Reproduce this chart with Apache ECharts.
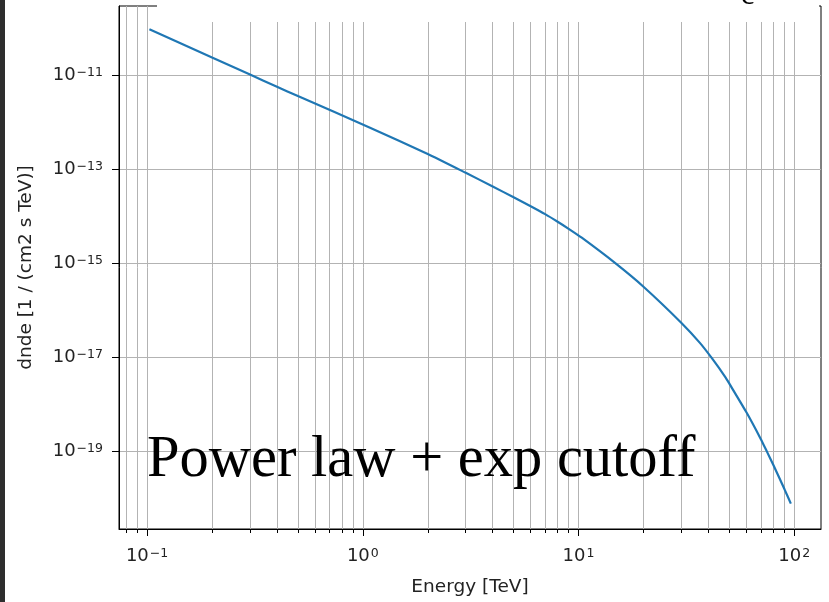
<!DOCTYPE html>
<html>
<head>
<meta charset="utf-8">
<script src="https://cdn.jsdelivr.net/npm/echarts@6/dist/echarts.min.js"></script>
<style>
  html, body { margin: 0; padding: 0; background: #fff; }
  #chart { width: 829px; height: 602px; }
</style>
</head>
<body>
<div id="chart"></div>
<script>
// values (log-log)
const energy = [0.1025, 0.2, 0.3, 0.4, 0.5, 1.08, 2, 3, 4, 5, 6, 7, 8, 9, 10.35,
  14.8, 20, 30, 36.6, 41.5, 47.9, 50, 60, 70, 74.6, 80, 90, 96.4];
const dnde = [9.33e-11, 2.34e-11, 1.02e-11, 5.62e-12, 3.55e-12, 7.59e-13, 2.09e-13,
  8.32e-14, 4.27e-14, 2.51e-14, 1.62e-14, 1.10e-14, 7.59e-15, 5.37e-15, 3.47e-15,
  1.00e-15, 3.16e-16, 5.37e-17, 2.00e-17, 9.55e-18, 3.80e-18, 2.75e-18, 6.76e-19,
  1.82e-19, 1.00e-19, 5.13e-20, 1.58e-20, 7.76e-21];

const xTicks = [0.1, 1, 10, 100];
const yTicks = [1e-19, 1e-17, 1e-15, 1e-13, 1e-11];
const xRange = [0.0741, 133];
const yRange = [2.24e-21, 2.92e-10];

const titleText = 'Power law + exp cutoff';
const xName = 'Energy [TeV]';
const yName = 'dnde [1 / (cm2 s TeV)]';

const font = 'DejaVu Sans';
const gridColor = '#b3b3b3';
const textColor = '#222';

function powLabel(v) {
  const e = Math.round(Math.log10(v));
  const s = e < 0 ? '\u2212' + (-e) : String(e);
  return '{b|10}{s|' + s + '}';
}
const labelRich = {
  b: { fontFamily: font, fontSize: 18, color: textColor, verticalAlign: 'bottom' },
  s: { fontFamily: font, fontSize: 12.5, color: textColor, verticalAlign: 'top', padding: [0, 0, 0, 1] }
};

const chart = echarts.init(document.getElementById('chart'), null, { renderer: 'canvas' });

chart.setOption({
  backgroundColor: '#fff',
  animation: false,
  grid: {
    left: 119, right: 8, top: 6, bottom: 71,
    show: true, borderColor: '#000', borderWidth: 1, backgroundColor: 'transparent'
  },
  xAxis: {
    type: 'log',
    logBase: 10,
    min: xRange[0],
    max: xRange[1],
    name: xName,
    nameLocation: 'middle',
    nameGap: 49,
    nameTextStyle: { fontFamily: font, fontSize: 18.5, color: textColor },
    axisLine: { lineStyle: { color: '#000', width: 1 } },
    axisTick: { customValues: xTicks, length: 7, lineStyle: { color: '#000' } },
    axisLabel: { customValues: xTicks, margin: 18, formatter: powLabel, rich: labelRich },
    splitLine: { show: true, lineStyle: { color: gridColor, width: 1 } },
    minorTick: { show: true, splitNumber: 9, length: 4, lineStyle: { color: '#000' } },
    minorSplitLine: { show: true, lineStyle: { color: gridColor, width: 1 } }
  },
  yAxis: {
    type: 'log',
    logBase: 10,
    min: yRange[0],
    max: yRange[1],
    name: yName,
    nameLocation: 'middle',
    nameGap: 83,
    nameTextStyle: { fontFamily: font, fontSize: 18.5, color: textColor },
    axisLine: { show: true, lineStyle: { color: '#000', width: 1 } },
    axisTick: { show: true, customValues: yTicks, length: 7, lineStyle: { color: '#000' } },
    axisLabel: { customValues: yTicks, margin: 16, formatter: powLabel, rich: labelRich },
    splitLine: { show: true, lineStyle: { color: gridColor, width: 1 } }
  },
  series: [{
    type: 'line',
    data: energy.map((e, i) => [e, dnde[i]]),
    showSymbol: false,
    smooth: 0.2,
    lineStyle: { color: '#1f77b4', width: 2.2 },
    z: 5
  }],
  graphic: [
    { type: 'rect', z: 100, shape: { x: 0, y: 0, width: 5, height: 602 }, style: { fill: '#2e2e2e' } },
    { type: 'rect', z: 100, shape: { x: 157, y: 0, width: 662, height: 22 }, style: { fill: '#fff' } },
    { type: 'text', z: 101, style: { x: 741, y: -4, text: 'c', font: '30px "Liberation Serif"', fill: '#000', verticalAlign: 'middle' } },
    { type: 'text', z: 101, style: { x: 147, y: 461, text: titleText, font: '58.5px "Liberation Serif"', fill: '#000', verticalAlign: 'middle' } }
  ]
});
</script>
</body>
</html>
